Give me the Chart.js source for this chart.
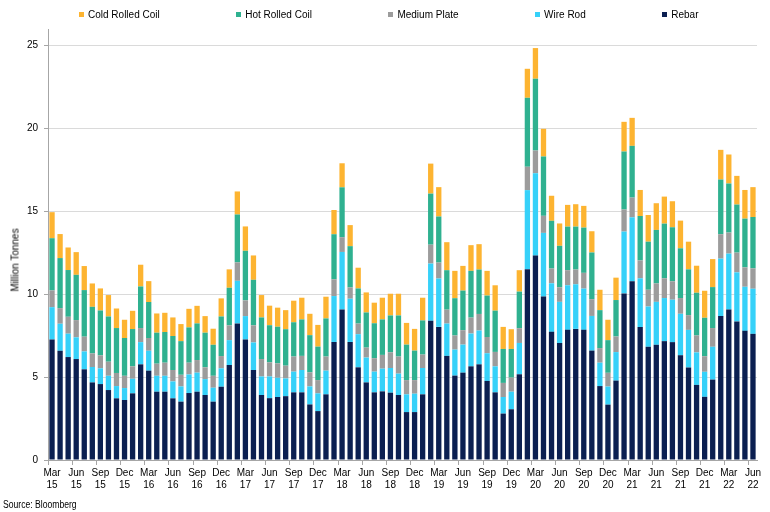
<!DOCTYPE html>
<html>
<head>
<meta charset="utf-8">
<title>China steel output by product</title>
<script src="https://cdn.jsdelivr.net/npm/chart.js@4.4.1/dist/chart.umd.min.js"></script>
<style>
    body { margin: 0; background: #ffffff; }
    #wrap { position: relative; width: 770px; height: 512px; }
    #legend {
        position: absolute; top: 9px; left: 79px;
        display: flex; gap: 76.5px;
        font: 10px 'Liberation Sans', Arial, sans-serif; color: #000;
    }
    #legend span.item { display: flex; align-items: center; white-space: nowrap; }
    #legend span.box { width: 5px; height: 5px; margin-right: 4px; display: inline-block; }
    #yTitle {
        position: absolute; left: 15px; top: 260px;
        transform: translate(-50%, -50%) rotate(-90deg);
        font: 10px 'Liberation Sans', Arial, sans-serif; color: #000; white-space: nowrap;
    }
    #source {
        position: absolute; left: 3px; top: 499px;
        transform: scaleX(0.86); transform-origin: left top;
        font: 10px 'Liberation Sans', Arial, sans-serif; color: #000; white-space: nowrap;
    }
</style>
</head>
<body>
<div id="wrap">
    <canvas id="steelChart" width="770" height="512"></canvas>
    <div id="legend"></div>
    <div id="yTitle">Million Tonnes</div>
    <div id="source">Source: Bloomberg</div>
</div>
<script>
// Months, Mar 2015 - Jun 2022
const months = [
    'Mar 15', 'Apr 15', 'May 15', 'Jun 15', 'Jul 15', 'Aug 15', 'Sep 15', 'Oct 15', 'Nov 15', 'Dec 15',
    'Jan 16', 'Feb 16', 'Mar 16', 'Apr 16', 'May 16', 'Jun 16', 'Jul 16', 'Aug 16', 'Sep 16', 'Oct 16', 'Nov 16', 'Dec 16',
    'Jan 17', 'Feb 17', 'Mar 17', 'Apr 17', 'May 17', 'Jun 17', 'Jul 17', 'Aug 17', 'Sep 17', 'Oct 17', 'Nov 17', 'Dec 17',
    'Jan 18', 'Feb 18', 'Mar 18', 'Apr 18', 'May 18', 'Jun 18', 'Jul 18', 'Aug 18', 'Sep 18', 'Oct 18', 'Nov 18', 'Dec 18',
    'Jan 19', 'Feb 19', 'Mar 19', 'Apr 19', 'May 19', 'Jun 19', 'Jul 19', 'Aug 19', 'Sep 19', 'Oct 19', 'Nov 19', 'Dec 19',
    'Jan 20', 'Feb 20', 'Mar 20', 'Apr 20', 'May 20', 'Jun 20', 'Jul 20', 'Aug 20', 'Sep 20', 'Oct 20', 'Nov 20', 'Dec 20',
    'Jan 21', 'Feb 21', 'Mar 21', 'Apr 21', 'May 21', 'Jun 21', 'Jul 21', 'Aug 21', 'Sep 21', 'Oct 21', 'Nov 21', 'Dec 21',
    'Jan 22', 'Feb 22', 'Mar 22', 'Apr 22', 'May 22', 'Jun 22'
];

// Million tonnes per month, one array per product
const rebar = [
    7.27, 6.59, 6.21, 6.09, 5.47, 4.68, 4.58, 4.22, 3.72, 3.62,
    4.02, 5.77, 5.39, 4.12, 4.12, 3.72, 3.52, 4.04, 4.12, 3.92, 3.52, 4.42,
    5.73, 8.24, 7.27, 5.43, 3.92, 3.73, 3.80, 3.85, 4.08, 4.08, 3.35, 2.95,
    3.96, 7.12, 9.08, 7.12, 5.59, 4.68, 4.08, 4.14, 4.06, 3.92, 2.89, 2.89,
    3.96, 8.40, 8.03, 6.28, 5.09, 5.27, 5.65, 5.77, 4.77, 4.08, 2.80, 3.06,
    5.17, 11.51, 12.33, 9.86, 7.73, 7.06, 7.85, 7.91, 7.85, 6.60, 4.46, 3.34,
    4.79, 10.05, 10.78, 8.02, 6.83, 6.95, 7.17, 7.11, 6.32, 5.58, 4.53, 3.81,
    4.85, 8.68, 9.08, 8.36, 7.79, 7.61
];
const wireRod = [
    1.95, 1.63, 1.41, 1.31, 1.08, 0.93, 0.95, 0.86, 0.74, 0.72,
    0.88, 1.34, 1.20, 0.96, 0.96, 1.02, 0.92, 1.12, 1.15, 0.96, 0.84, 1.11,
    1.50, 2.57, 1.41, 1.66, 1.12, 1.31, 1.16, 1.07, 1.25, 1.35, 1.09, 1.07,
    1.43, 2.77, 3.47, 2.61, 2.00, 1.50, 1.25, 1.37, 1.49, 1.29, 1.07, 1.11,
    1.59, 3.45, 2.92, 1.95, 1.57, 1.69, 1.98, 2.04, 1.67, 1.57, 1.00, 1.06,
    1.89, 4.77, 4.97, 3.84, 2.93, 2.48, 2.69, 2.69, 2.49, 2.09, 1.41, 1.09,
    1.72, 3.73, 3.86, 2.94, 2.43, 2.59, 2.60, 2.56, 2.50, 2.27, 1.96, 1.51,
    1.98, 3.47, 3.37, 2.96, 2.66, 2.72
];
const mediumPlate = [
    1.01, 0.94, 1.02, 1.04, 0.89, 0.82, 0.78, 0.85, 0.79, 0.74,
    0.75, 0.85, 0.77, 0.73, 0.79, 0.69, 0.70, 0.71, 0.76, 0.71, 0.72, 0.74,
    0.89, 1.11, 0.95, 1.03, 1.05, 0.85, 0.87, 0.77, 0.91, 0.85, 0.85, 0.80,
    0.85, 1.01, 0.89, 0.68, 0.64, 0.60, 0.81, 0.83, 0.95, 1.03, 0.86, 0.82,
    0.81, 1.14, 0.96, 0.84, 0.85, 0.87, 0.96, 1.00, 0.98, 0.87, 0.85, 0.85,
    0.89, 1.41, 1.37, 1.03, 0.89, 0.88, 0.91, 0.89, 0.95, 1.01, 0.88, 0.83,
    0.94, 1.33, 1.19, 1.08, 1.01, 1.11, 1.19, 1.11, 0.95, 0.89, 1.02, 0.94,
    1.13, 1.47, 1.27, 1.19, 1.17, 1.23
];
const hotRolledCoil = [
    3.15, 3.02, 2.82, 2.73, 2.81, 2.81, 2.71, 2.73, 2.71, 2.28,
    2.25, 2.51, 2.17, 1.87, 1.85, 2.05, 2.03, 2.13, 2.21, 2.09, 1.87, 2.39,
    2.27, 2.89, 2.99, 2.75, 2.51, 2.24, 2.21, 2.20, 2.07, 2.20, 2.24, 2.02,
    2.30, 2.72, 3.01, 2.49, 2.12, 2.12, 2.11, 2.14, 2.22, 2.48, 2.14, 1.78,
    2.06, 3.08, 2.78, 2.38, 2.25, 2.39, 2.82, 2.68, 2.50, 2.49, 2.05, 1.73,
    2.21, 4.16, 4.33, 3.58, 2.88, 2.50, 2.63, 2.59, 2.73, 2.82, 2.29, 1.97,
    2.20, 3.50, 3.12, 2.68, 2.90, 3.23, 3.30, 3.26, 3.00, 2.76, 2.58, 2.32,
    2.47, 3.30, 2.96, 2.90, 2.94, 3.10
];
const coldRolledCoil = [
    1.57, 1.45, 1.36, 1.37, 1.45, 1.41, 1.33, 1.29, 1.18, 1.10,
    1.10, 1.31, 1.26, 1.16, 1.16, 1.12, 1.03, 1.12, 1.06, 1.00, 0.97, 1.09,
    1.11, 1.39, 1.47, 1.47, 1.35, 1.18, 1.15, 1.15, 1.30, 1.31, 1.29, 1.31,
    1.31, 1.46, 1.45, 1.27, 1.25, 1.21, 1.24, 1.31, 1.31, 1.31, 1.31, 1.31,
    1.37, 1.81, 1.77, 1.69, 1.65, 1.49, 1.55, 1.53, 1.49, 1.53, 1.33, 1.19,
    1.29, 1.75, 1.85, 1.67, 1.51, 1.35, 1.31, 1.35, 1.31, 1.28, 1.23, 1.23,
    1.35, 1.79, 1.69, 1.57, 1.61, 1.61, 1.63, 1.57, 1.67, 1.67, 1.63, 1.63,
    1.69, 1.79, 1.75, 1.73, 1.73, 1.80
];

const plainFont = "'Liberation Sans', Arial, sans-serif";

// Stack from the bottom: rebar first, cold rolled coil on top
const datasets = [
    { label: 'Rebar', data: rebar, backgroundColor: '#0b1f51' },
    { label: 'Wire Rod', data: wireRod, backgroundColor: '#36d1f9' },
    { label: 'Medium Plate', data: mediumPlate, backgroundColor: '#9c9c9c' },
    { label: 'Hot Rolled Coil', data: hotRolledCoil, backgroundColor: '#2fb190' },
    { label: 'Cold Rolled Coil', data: coldRolledCoil, backgroundColor: '#fdb431' }
];

const chart = new Chart(document.getElementById('steelChart'), {
    type: 'bar',
    data: { labels: months, datasets: datasets },
    options: {
        responsive: false,
        animation: false,
        categoryPercentage: 1,
        barPercentage: 0.66,
        layout: { padding: { top: 29, right: 13, bottom: 19, left: 0 } },
        plugins: {
            legend: { display: false },
            tooltip: { enabled: false }
        },
        scales: {
            x: {
                stacked: true,
                border: { color: '#a6a6a6' },
                grid: {
                    drawOnChartArea: false,
                    tickLength: 5,
                    color: ctx => (ctx.index % 3 === 0 ? '#a6a6a6' : 'rgba(0,0,0,0)')
                },
                ticks: {
                    autoSkip: false,
                    maxRotation: 0,
                    padding: 2,
                    color: '#000',
                    font: { family: plainFont, size: 10 },
                    callback: function (value, index) {
                        if (index % 3 !== 0) return '';
                        return months[index].split(' ');
                    }
                }
            },
            y: {
                stacked: true,
                min: 0,
                max: 26,
                // y axis line sits at x = 48 like the original
                afterFit: scale => { scale.width = 48; },
                border: { color: '#a6a6a6' },
                grid: {
                    color: '#dadada',
                    tickColor: '#a6a6a6',
                    tickLength: 4
                },
                ticks: {
                    stepSize: 5,
                    includeBounds: false,
                    padding: 6,
                    color: '#000',
                    font: { family: plainFont, size: 10 }
                }
            }
        }
    }
});

// HTML legend, same order as the original (top of stack first)
const legendEl = document.getElementById('legend');
chart.data.datasets.slice().reverse().forEach(ds => {
    const item = document.createElement('span');
    item.className = 'item';
    const box = document.createElement('span');
    box.className = 'box';
    box.style.background = ds.backgroundColor;
    item.appendChild(box);
    item.appendChild(document.createTextNode(ds.label));
    legendEl.appendChild(item);
});
</script>
</body>
</html>
